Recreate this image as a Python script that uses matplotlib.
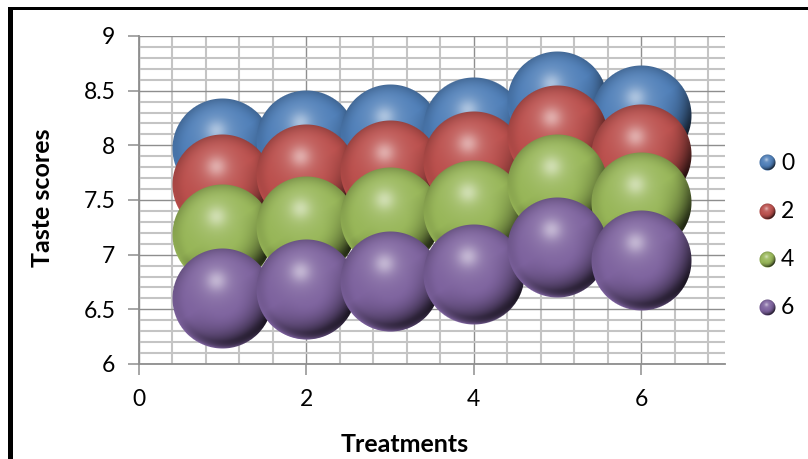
import numpy as np
import matplotlib
matplotlib.use("Agg")
import matplotlib.pyplot as plt
from matplotlib.offsetbox import OffsetImage, AnnotationBbox
from matplotlib.patches import Rectangle

plt.rcParams['font.family'] = ['Lato', 'DejaVu Sans']

treatments = [1, 2, 3, 4, 5, 6]
series_names = ['0', '2', '4', '6']
s0 = [7.97, 8.04, 8.10, 8.16, 8.40, 8.27]
s2 = [7.64, 7.73, 7.77, 7.85, 8.09, 7.92]
s4 = [7.18, 7.26, 7.34, 7.40, 7.64, 7.48]
s6 = [6.60, 6.68, 6.75, 6.82, 7.07, 6.95]
colors = ['#4F81BD', '#C0504D', '#9BBB59', '#8064A2']
x_ticks = [0, 2, 4, 6]
y_ticks = [6, 6.5, 7, 7.5, 8, 8.5, 9]
y_labels = ['6', '6.5', '7', '7.5', '8', '8.5', '9']

W, H = 808, 459
fig = plt.figure(figsize=(W / 100, H / 100), dpi=100)
ax = fig.add_axes([139 / W, 1 - 364 / H, (725 - 139) / W, (364 - 36) / H])
ax.set_xlim(0, 7)
ax.set_ylim(6, 9)


def sphere_image(color, r):
    c = np.array(matplotlib.colors.to_rgb(color))
    n = int(2 * r + 3)
    yy, xx = np.mgrid[0:n, 0:n]
    cx = cy = (n - 1) / 2
    dx = (xx - cx) / r
    dy = (yy - cy) / r
    d = np.hypot(dx, dy)
    g = np.hypot(dx + 0.12, dy + 0.36)
    # body close to the series colour, darker towards the top rim
    shade = 0.97 - 0.20 * np.clip((d - 0.70) / 0.30, 0, 1) ** 2
    # dark crescent, lower right
    dd = dx * 0.55 + dy * 0.83
    cres = np.clip((d - 0.30) / 0.65, 0, 1) ** 1.3 * np.clip(dd + 0.10, 0, 1)
    shade = shade * (1 - 0.78 * cres)
    img = c[None, None, :] * shade[..., None]
    # lighter reflection along the lower rim, lower left
    rr = np.clip((d - 0.84) / 0.16, 0, 1) ** 1.5 * np.clip(dy * 0.9 - dx * 0.45, 0, 1)
    img = img + (c[None, None, :] * 1.05 - img) * (0.9 * rr)[..., None]
    # glow and highlight, tinted with the series colour
    tint = c[None, None, :] * 0.35 + 0.65
    glow = 0.30 * np.exp(-(g / 0.50) ** 2) + 0.50 * np.exp(-(g / 0.20) ** 2)
    img = img + (tint - img) * glow[..., None]
    alpha = np.clip((1 - d) * r + 0.5, 0, 1)
    return np.dstack([np.clip(img, 0, 1), alpha])


def add_sphere(x, y, color, r, coords='data', zorder=3):
    box = OffsetImage(sphere_image(color, r), zoom=1, dpi_cor=False, resample=True)
    ab = AnnotationBbox(box, (x, y), xycoords=coords, frameon=False, pad=0,
                        box_alignment=(0.5, 0.5), zorder=zorder, annotation_clip=False)
    (ax if coords == 'data' else fig).add_artist(ab)


R = 50
size_pts2 = (2 * R * 0.72) ** 2 * 0.95
z = 3.0
for vals, col, name in zip([s0, s2, s4, s6], colors, series_names):
    for xv, yv in zip(treatments, vals):
        ax.scatter([xv], [yv], s=size_pts2, color=col, zorder=z, linewidths=0)
        add_sphere(xv, yv, col, R, zorder=z + 0.01)
        z += 0.1

# grid
ax.set_xticks(x_ticks)
ax.set_xticks(np.arange(0, 7.01, 0.4), minor=True)
ax.set_yticks(y_ticks)
ax.set_yticklabels(y_labels)
ax.set_yticks(np.arange(6, 9.01, 0.1), minor=True)
ax.grid(True, which='minor', color='#C4C4C4', lw=1.5, zorder=0)
ax.grid(True, which='major', color='#8E8E8E', lw=1.0, zorder=1)
ax.set_axisbelow(True)
for name, sp in ax.spines.items():
    sp.set_visible(name in ('left', 'bottom'))
    sp.set_color('#8E8E8E')
    sp.set_linewidth(1.3)
ax.tick_params(which='major', length=8, width=1.1, color='#8E8E8E', labelsize=16.5,
               labelcolor='black', pad=9)
ax.tick_params(axis='x', which='major', pad=10)
ax.tick_params(which='minor', length=0)

fig.text(405 / W, 1 - 445 / H, 'Treatments', ha='center', va='center', fontsize=18, fontweight='bold')
fig.text(43 / W, 1 - 198 / H, 'Taste scores', ha='center', va='center', rotation=90, fontsize=18, fontweight='bold')

# legend
leg_y = [163, 212, 260, 308]
for yp, col, name in zip(leg_y, colors, series_names):
    add_sphere(767, H - yp, col, 8, coords='figure pixels', zorder=5)
    fig.text(781 / W, 1 - yp / H, name, ha='left', va='center', fontsize=16.5)

# chart frame (left and top)
fig.add_artist(Rectangle((7.5 / W, 0), 5 / W, 1 - 7 / H, transform=fig.transFigure, color='black', lw=0))
fig.add_artist(Rectangle((7.5 / W, 1 - 10 / H), 1 - 7.5 / W, 3.2 / H, transform=fig.transFigure, color='black', lw=0))

fig.savefig('out.png', dpi=100)
